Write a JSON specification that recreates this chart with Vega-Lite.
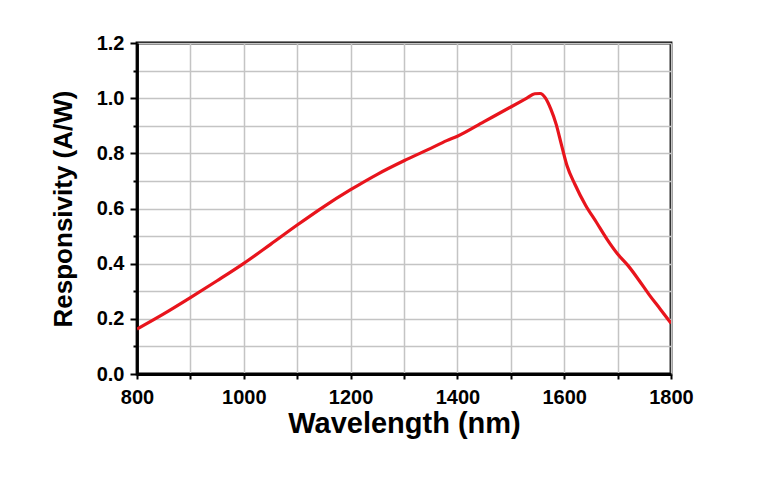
{
  "$schema": "https://vega.github.io/schema/vega-lite/v6.json",
  "autosize": "none",
  "width": 534,
  "height": 331,
  "padding": {"left": 137, "top": 43, "right": 97, "bottom": 104},
  "background": "white",
  "config": {
    "view": {"stroke": "black", "strokeWidth": 2.8},
    "font": "Liberation Sans",
    "axis": {
      "domainColor": "black",
      "domainWidth": 2.8,
      "tickColor": "black",
      "tickWidth": 2,
      "gridColor": "#c4c4c4",
      "gridWidth": 1.5,
      "gridOpacity": 1,
      "labelFont": "Liberation Sans",
      "labelFontWeight": "bold",
      "labelFontSize": 20,
      "labelColor": "black",
      "titleFont": "Liberation Sans",
      "titleFontWeight": "bold",
      "titleColor": "black"
    }
  },
  "data": {
    "values": [
      {"wavelength": 800, "responsivity": 0.163},
      {"wavelength": 850, "responsivity": 0.218},
      {"wavelength": 900, "responsivity": 0.277},
      {"wavelength": 950, "responsivity": 0.338},
      {"wavelength": 1000, "responsivity": 0.401},
      {"wavelength": 1050, "responsivity": 0.470},
      {"wavelength": 1100, "responsivity": 0.540},
      {"wavelength": 1150, "responsivity": 0.607},
      {"wavelength": 1200, "responsivity": 0.668},
      {"wavelength": 1250, "responsivity": 0.724},
      {"wavelength": 1300, "responsivity": 0.773},
      {"wavelength": 1350, "responsivity": 0.818},
      {"wavelength": 1380, "responsivity": 0.846},
      {"wavelength": 1400, "responsivity": 0.862},
      {"wavelength": 1450, "responsivity": 0.915},
      {"wavelength": 1500, "responsivity": 0.968},
      {"wavelength": 1530, "responsivity": 1.000},
      {"wavelength": 1545, "responsivity": 1.016},
      {"wavelength": 1555, "responsivity": 1.017},
      {"wavelength": 1565, "responsivity": 1.000},
      {"wavelength": 1575, "responsivity": 0.960},
      {"wavelength": 1585, "responsivity": 0.905},
      {"wavelength": 1595, "responsivity": 0.830},
      {"wavelength": 1605, "responsivity": 0.757},
      {"wavelength": 1620, "responsivity": 0.688},
      {"wavelength": 1640, "responsivity": 0.612},
      {"wavelength": 1660, "responsivity": 0.551},
      {"wavelength": 1680, "responsivity": 0.489},
      {"wavelength": 1700, "responsivity": 0.435},
      {"wavelength": 1720, "responsivity": 0.392},
      {"wavelength": 1740, "responsivity": 0.340},
      {"wavelength": 1760, "responsivity": 0.285},
      {"wavelength": 1780, "responsivity": 0.235},
      {"wavelength": 1800, "responsivity": 0.184}
    ]
  },
  "mark": {"type": "line", "color": "#e8141c", "strokeWidth": 3.2, "interpolate": "monotone", "clip": true},
  "encoding": {
    "x": {
      "field": "wavelength",
      "type": "quantitative",
      "scale": {"domain": [800, 1800], "nice": false, "zero": false},
      "axis": {
        "title": "Wavelength (nm)",
        "titleFontSize": 29,
        "titlePadding": 2,
        "values": [800, 900, 1000, 1100, 1200, 1300, 1400, 1500, 1600, 1700, 1800],
        "labelExpr": "datum.value % 200 == 0 ? format(datum.value, 'd') : ''",
        "tickSize": 5,
        "labelPadding": 8,
        "labelFlush": false
      }
    },
    "y": {
      "field": "responsivity",
      "type": "quantitative",
      "scale": {"domain": [0, 1.2], "nice": false},
      "axis": {
        "title": "Responsivity (A/W)",
        "titleFontSize": 26,
        "titlePadding": 20,
        "values": [0, 0.1, 0.2, 0.3, 0.4, 0.5, 0.6, 0.7, 0.8, 0.9, 1.0, 1.1, 1.2],
        "labelExpr": "round(datum.value * 10) % 2 == 0 ? format(datum.value, '.1f') : ''",
        "tickSize": {"condition": {"test": "round(datum.value * 10) % 2 == 0", "value": 7}, "value": 4},
        "labelPadding": 6,
        "labelFlush": false
      }
    }
  }
}
